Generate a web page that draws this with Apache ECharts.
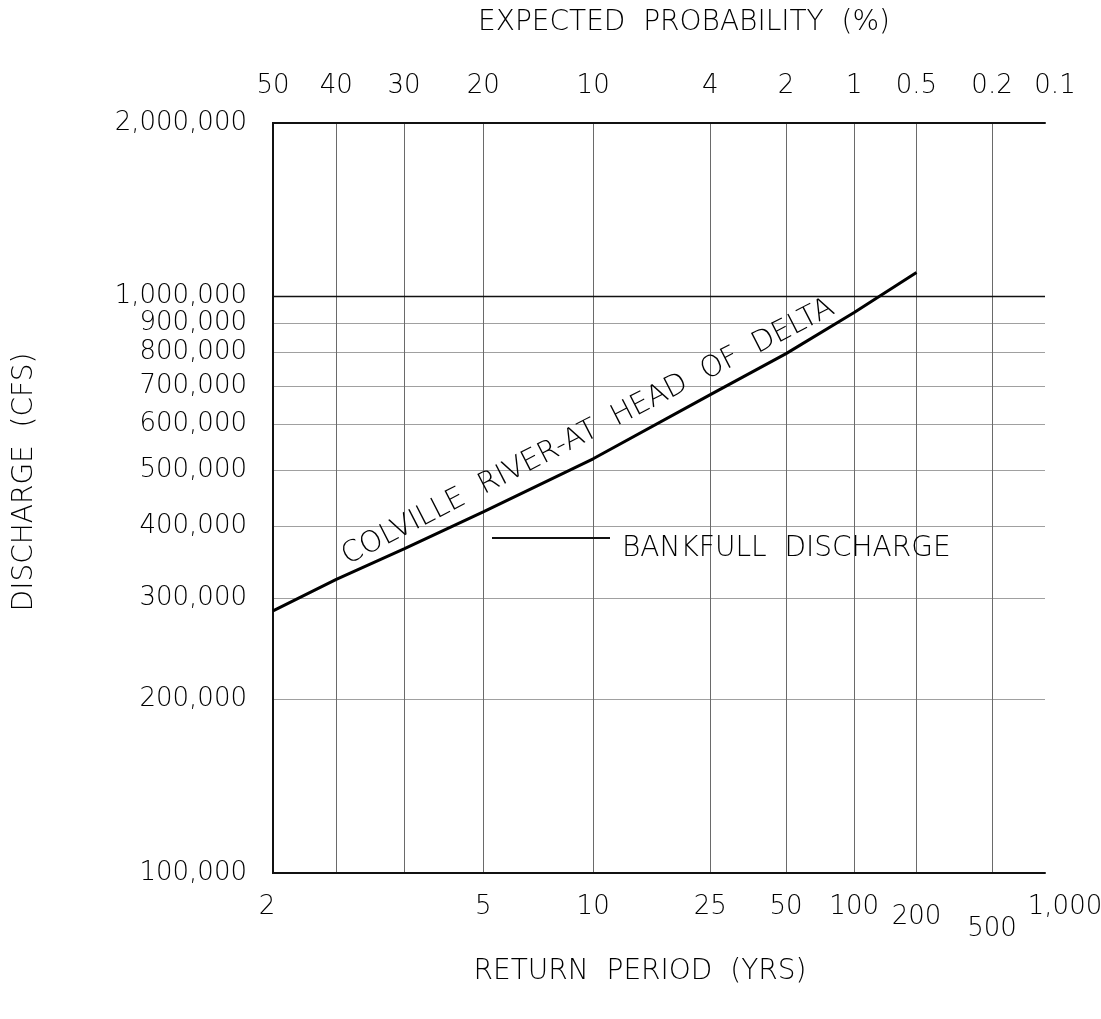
<!DOCTYPE html>
<html><head><meta charset="utf-8">
<script src="https://cdn.jsdelivr.net/npm/echarts@6/dist/echarts.min.js"></script>
<style>html,body{margin:0;padding:0;background:#fff}#c{width:1101px;height:1019px}</style>
</head><body><div id="c"></div>
<script>
// ---------- data ----------
const probTicks = [50, 40, 30, 20, 10, 4, 2, 1, 0.5, 0.2, 0.1];          // expected probability (%)
const probLabels = ['50', '40', '30', '20', '10', '4', '2', '1', '0.5', '0.2', '0.1'];
const returnPeriods = [2, 5, 10, 25, 50, 100, 200, 500, 1000];             // years
const returnLabels = ['2', '5', '10', '25', '50', '100', '200', '500', '1,000'];
const dischargeTicks = [100000, 200000, 300000, 400000, 500000, 600000, 700000, 800000, 900000, 1000000, 2000000];
const curveProb = [50, 40, 30, 20, 10, 4, 2, 1, 0.5];                     // % exceedance
const curveQ = [285000, 323000, 365000, 423000, 523000, 676000, 796000, 938000, 1101000]; // cfs
const bankfullQ = 1000000;
const curveName = 'COLVILLE  RIVER-AT  HEAD  OF  DELTA';
const bankfullName = 'BANKFULL  DISCHARGE';

// ---------- probability scale (normal) ----------
function invNorm(p){
  const a=[-3.969683028665376e+01,2.209460984245205e+02,-2.759285104469687e+02,1.383577518672690e+02,-3.066479806614716e+01,2.506628277459239e+00];
  const b=[-5.447609879822406e+01,1.615858368580409e+02,-1.556989798598866e+02,6.680131188771972e+01,-1.328068155288572e+01];
  const c=[-7.784894002430293e-03,-3.223964580411365e-01,-2.400758277161838e+00,-2.549671010243277e+00,4.374664141464968e+00,2.938163982698783e+00];
  const d=[7.784695709041462e-03,3.224671290700398e-01,2.445134137142996e+00,3.754408661907416e+00];
  const pl=0.02425, ph=1-pl; let q,r;
  if(p<pl){q=Math.sqrt(-2*Math.log(p));return (((((c[0]*q+c[1])*q+c[2])*q+c[3])*q+c[4])*q+c[5])/((((d[0]*q+d[1])*q+d[2])*q+d[3])*q+1);}
  if(p<=ph){q=p-0.5;r=q*q;return (((((a[0]*r+a[1])*r+a[2])*r+a[3])*r+a[4])*r+a[5])*q/(((((b[0]*r+b[1])*r+b[2])*r+b[3])*r+b[4])*r+1);}
  q=Math.sqrt(-2*Math.log(1-p));return -(((((c[0]*q+c[1])*q+c[2])*q+c[3])*q+c[4])*q+c[5])/((((d[0]*q+d[1])*q+d[2])*q+d[3])*q+1);
}
const zOf = pct => invNorm(1 - pct / 100);
const zTop = probTicks.map(zOf);
const zBottom = returnPeriods.map(T => zOf(100 / T));
const zMin = zOf(probTicks[0]);
const zMax = zOf(probTicks[probTicks.length - 1]);
const idxOf = (arr, v) => arr.findIndex(z => Math.abs(z - v) < 1e-6);

const FONT = 'DejaVu Sans';
const WEIGHT = 200;
const INK = '#000';
const tok = extra => Object.assign({fontFamily: FONT, fontWeight: WEIGHT, fontSize: 26, color: INK}, extra);

const chart = echarts.init(document.getElementById('c'), null, {renderer: 'canvas'});
chart.setOption({
  animation: false,
  backgroundColor: '#fff',
  grid: {left: 273, right: 56, top: 123, bottom: 146, outerBoundsMode: 'none', containLabel: false},
  legend: {
    show: true, left: 492, top: 535, padding: 0, selectedMode: false,
    data: [bankfullName], icon: 'rect', itemWidth: 118, itemHeight: 2,
    formatter: n => '{a|' + n + '}',
    textStyle: {fontFamily: FONT, fontWeight: WEIGHT, fontSize: 28, color: INK,
      rich: {a: tok({fontSize: 28, padding: [22, 0, 0, 7]})}}
  },
  xAxis: [{
    type: 'value', position: 'top', min: zMin, max: zMax,
    name: 'EXPECTED  PROBABILITY  (%)', nameLocation: 'middle', nameGap: 86,
    nameTextStyle: {fontFamily: FONT, fontWeight: WEIGHT, fontSize: 28, color: INK, padding: [0, 0, 0, 50]},
    axisLine: {show: true, lineStyle: {color: '#111', width: 2}},
    axisTick: {show: false, customValues: zTop.slice(1, -1)},
    axisLabel: {
      customValues: zTop, margin: 24, fontFamily: FONT, fontWeight: WEIGHT, fontSize: 26, color: INK,
      formatter: v => { const i = idxOf(zTop, v); const s = probLabels[i];
        return s === '0.1' ? '{r|' + s + '}' : s; },
      rich: {r: tok({padding: [0, 0, 0, 20]})}
    },
    splitLine: {show: true, lineStyle: {color: '#6a6a6a', width: 1}}
  }, {
    type: 'value', position: 'bottom', min: zMin, max: zMax,
    name: 'RETURN  PERIOD  (YRS)', nameLocation: 'middle', nameGap: 85,
    nameTextStyle: {fontFamily: FONT, fontWeight: WEIGHT, fontSize: 28, color: INK, padding: [0, 38, 0, 0]},
    axisLine: {show: true, lineStyle: {color: '#111', width: 2}},
    axisTick: {show: false},
    axisLabel: {
      customValues: zBottom, margin: 21, fontFamily: FONT, fontWeight: WEIGHT, fontSize: 26, color: INK,
      formatter: v => { const i = idxOf(zBottom, v); const s = returnLabels[i];
        if (s === '2') return '{l|' + s + '}';
        if (s === '200') return '{d1|' + s + '}';
        if (s === '500') return '{d2|' + s + '}';
        if (s === '1,000') return '{r|' + s + '}';
        return '{n|' + s + '}'; },
      rich: {
        n: tok({}),
        l: tok({padding: [0, 12, 0, 0]}),
        d1: tok({padding: [10, 0, 0, 0]}),
        d2: tok({padding: [22, 0, 0, 0]}),
        r: tok({padding: [0, 0, 0, 40]})
      }
    },
    splitLine: {show: false}
  }],
  yAxis: [{
    type: 'log', logBase: 10, min: 100000, max: 2000000, position: 'left',
    name: 'DISCHARGE  (CFS)', nameLocation: 'middle', nameRotate: 90, nameGap: 234,
    nameTextStyle: {fontFamily: FONT, fontWeight: WEIGHT, fontSize: 28, color: INK, padding: [0, 0, 0, 32]},
    axisLine: {show: true, lineStyle: {color: '#111', width: 2}},
    axisTick: {show: false, customValues: dischargeTicks.slice(1, 9)},
    axisLabel: {
      customValues: dischargeTicks, margin: 26, fontFamily: FONT, fontWeight: WEIGHT, fontSize: 26, color: INK,
      formatter: v => Math.round(v).toLocaleString('en-US')
    },
    splitLine: {show: true, lineStyle: {color: '#a0a0a0', width: 1}}
  }, {
    type: 'log', logBase: 10, min: 100000, max: 2000000, position: 'right',
    axisLine: {show: true, lineStyle: {color: '#111', width: 2}},
    axisTick: {show: false}, axisLabel: {show: false}, splitLine: {show: false}
  }],
  series: [{
    name: bankfullName, type: 'line', xAxisIndex: 0, yAxisIndex: 0,
    color: '#111', symbol: 'none', silent: true,
    lineStyle: {color: '#111', width: 1.6},
    data: [[zMin, bankfullQ], [zMax, bankfullQ]], z: 3
  }, {
    name: 'curve', type: 'line', xAxisIndex: 0, yAxisIndex: 0,
    symbol: 'none', smooth: false, silent: true,
    lineStyle: {color: '#000', width: 3},
    data: curveProb.map((p, i) => [zOf(p), curveQ[i]]),
    markLine: {
      silent: true, symbol: ['none', 'none'],
      lineStyle: {color: 'rgba(0,0,0,0)', width: 1, type: 'solid'},
      label: {show: true, position: 'insideMiddleTop', distance: 1,
        formatter: curveName, fontFamily: FONT, fontWeight: WEIGHT, fontSize: 29, color: INK},
      data: [[{coord: [zOf(curveProb[1]), curveQ[1]]}, {coord: [zOf(curveProb[7]), curveQ[7]]}]]
    },
    z: 4
  }]
});
</script>
</body></html>
